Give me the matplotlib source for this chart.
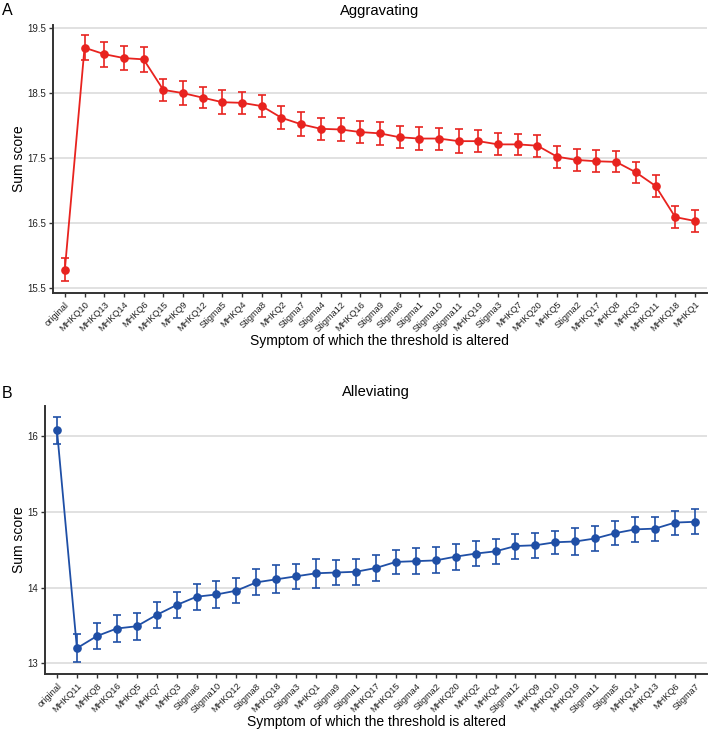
import matplotlib
matplotlib.use("Agg")
import matplotlib.pyplot as plt

plt.rcParams['font.family'] = ['Liberation Sans', 'DejaVu Sans']

# Panel A : aggravating
agg_labels = ["original", "MHKQ10", "MHKQ13", "MHKQ14", "MHKQ6", "MHKQ15", "MHKQ9", "MHKQ12",
              "Stigma5", "MHKQ4", "Stigma8", "MHKQ2", "Stigma7", "Stigma4", "Stigma12", "MHKQ16",
              "Stigma9", "Stigma6", "Stigma1", "Stigma10", "Stigma11", "MHKQ19", "Stigma3", "MHKQ7",
              "MHKQ20", "MHKQ5", "Stigma2", "MHKQ17", "MHKQ8", "MHKQ3", "MHKQ11", "MHKQ18", "MHKQ1"]
agg_values = [15.78, 19.20, 19.10, 19.04, 19.02, 18.55, 18.50, 18.43,
              18.36, 18.35, 18.30, 18.12, 18.02, 17.95, 17.94, 17.90,
              17.88, 17.82, 17.80, 17.80, 17.76, 17.76, 17.71, 17.71,
              17.69, 17.52, 17.47, 17.45, 17.44, 17.28, 17.07, 16.59, 16.53]
agg_err = [0.18, 0.19, 0.19, 0.187, 0.187, 0.174, 0.185, 0.167,
           0.187, 0.174, 0.169, 0.174, 0.182, 0.169, 0.18, 0.169,
           0.172, 0.169, 0.172, 0.169, 0.182, 0.172, 0.169, 0.162,
           0.167, 0.172, 0.169, 0.172, 0.162, 0.159, 0.164, 0.167, 0.169]
agg_ticks = [15.5, 16.5, 17.5, 18.5, 19.5]

# Panel B : alleviating
all_labels = ["original", "MHKQ11", "MHKQ8", "MHKQ16", "MHKQ5", "MHKQ7", "MHKQ3", "Stigma6",
              "Stigma10", "MHKQ12", "Stigma8", "MHKQ18", "Stigma3", "MHKQ1", "Stigma9", "Stigma1",
              "MHKQ17", "MHKQ15", "Stigma4", "Stigma2", "MHKQ20", "MHKQ2", "MHKQ4", "Stigma12",
              "MHKQ9", "MHKQ10", "MHKQ19", "Stigma11", "Stigma5", "MHKQ14", "MHKQ13", "MHKQ6", "Stigma7"]
all_values = [16.08, 13.20, 13.36, 13.46, 13.49, 13.64, 13.77, 13.88,
              13.91, 13.96, 14.07, 14.11, 14.15, 14.19, 14.20, 14.21,
              14.26, 14.34, 14.35, 14.36, 14.41, 14.45, 14.48, 14.55,
              14.56, 14.60, 14.61, 14.65, 14.72, 14.77, 14.78, 14.86, 14.87]
all_err = [0.178, 0.189, 0.172, 0.172, 0.178, 0.174, 0.176, 0.172,
           0.174, 0.165, 0.17, 0.187, 0.167, 0.19, 0.17, 0.172,
           0.172, 0.163, 0.174, 0.172, 0.172, 0.163, 0.161, 0.165,
           0.163, 0.154, 0.172, 0.165, 0.159, 0.163, 0.159, 0.159, 0.163]
all_ticks = [13, 14, 15, 16]


def draw_panel(ax, labels, values, err, ticks, ylim, color, title, tick_fmt, ylab_x):
    x = list(range(len(labels)))
    # grille horizontale façon ggplot
    for t in ticks:
        ax.axhline(t, color='#dedede', lw=1.3, zorder=0)
    eb = ax.errorbar(x, values, yerr=err, color=color, ecolor=color, elinewidth=1.4,
                     capsize=3.0, capthick=1.4, lw=1.3, marker='o', markersize=5.2, zorder=3)
    for part in eb[1] + eb[2]:
        part.set_alpha(0.85)
    ax.set_xlim(-0.6, len(labels) - 0.4)
    ax.set_ylim(*ylim)
    ax.set_yticks(ticks)
    ax.set_yticklabels([tick_fmt.format(t) for t in ticks], fontsize=7.0, color='#222222')
    ax.set_xticks(x)
    ax.set_xticklabels(labels, rotation=45, ha='right', rotation_mode='anchor',
                       fontsize=6.7, color='#222222')
    for side in ['top', 'right']:
        ax.spines[side].set_visible(False)
    for side in ['left', 'bottom']:
        ax.spines[side].set_color('#333333')
        ax.spines[side].set_linewidth(1.4)
    ax.tick_params(length=3, width=1, color='#333333', pad=2)
    ax.set_title(title, fontsize=10.6, pad=7)
    ax.set_ylabel('Sum score', fontsize=10)
    ax.yaxis.set_label_coords(ylab_x, 0.5)
    ax.set_xlabel('Symptom of which the threshold is altered', fontsize=10, labelpad=0)


fig = plt.figure(figsize=(7.09, 7.30), dpi=100)
ax1 = fig.add_axes([0.0748, 0.5986, 0.922, 0.3672])
ax2 = fig.add_axes([0.0635, 0.0763, 0.9335, 0.3675])

draw_panel(ax1, agg_labels, agg_values, agg_err, agg_ticks, (15.42, 19.55),
           '#e8231f', 'Aggravating', '{:.1f}', -0.041)
draw_panel(ax2, all_labels, all_values, all_err, all_ticks, (12.855, 16.40),
           '#1f4fa6', 'Alleviating', '{:d}', -0.028)

fig.text(0.003, 0.996, 'A', fontsize=11.5, va='top')
fig.text(0.003, 0.471, 'B', fontsize=11.5, va='top')

fig.savefig('out.png', dpi=100)
